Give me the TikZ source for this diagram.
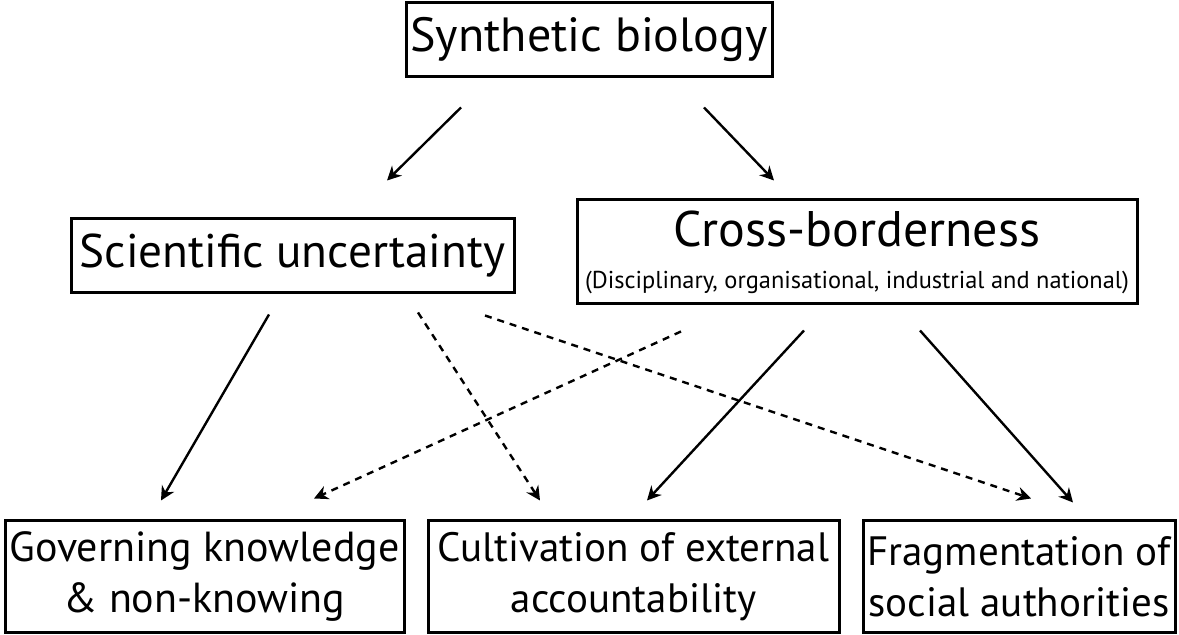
\documentclass[tikz,border=0pt]{standalone}
\usepackage{fontspec}
\setmainfont{PT Sans}
\usepackage{tikz}
\usetikzlibrary{arrows.meta, calc}

\tikzset{
  box/.style = {draw, line width=1.5pt, inner sep=0pt, align=center},
  arr/.style = {-{Stealth[length=7pt, width=7pt]}, line width=1.2pt},
  darr/.style = {arr, dash pattern=on 3.5pt off 3pt},
}

\begin{document}
\begin{tikzpicture}[x=0.5pt, y=-0.5pt]
  \useasboundingbox (0,0) rectangle (1179,635);

  \node (syn) [box, minimum width=183pt, minimum height=37pt,
               font=\fontsize{24}{29}\selectfont] at (589,40) {Synthetic biology};
  \node (sci) [box, minimum width=221.5pt, minimum height=37pt,
               font=\fontsize{23.6}{28}\selectfont] at (292.5,256) {Scientific uncertainty};
  \node (cross) [box, minimum width=280pt, minimum height=52pt,
                 font=\fontsize{25}{30}\selectfont] at (857,252)
    {Cross-borderness\\[-9pt]{\fontsize{12.2}{14}\selectfont (Disciplinary, organisational, industrial and national)}};

  \node (gov) [box, minimum width=199.5pt, minimum height=56pt,
               font=\fontsize{21}{25.5}\selectfont] at (204.5,577) {Governing knowledge\\\& non-knowing};
  \node (cult) [box, minimum width=205.5pt, minimum height=56pt,
                font=\fontsize{20.5}{25.5}\selectfont] at (633.5,577) {Cultivation of external\\accountability};
  \node (frag) [box, minimum width=156pt, minimum height=56pt,
                font=\fontsize{20.5}{25.5}\selectfont] at (1019,577) {Fragmentation of\\social authorities};

  % top level
  \draw [arr] ($(syn.south)+(-128,29)$) -- ($(sci.north)+(94.5,-37)$);
  \draw [arr] ($(syn.south)+(115,29)$) -- ($(cross.north)+(-83,-18)$);

  % from scientific uncertainty
  \draw [arr]  ($(sci.south)+(-23.5,20)$) -- ($(gov.north)+(-43.5,-19)$);
  \draw [darr] ($(sci.south)+(125.5,18)$) -- ($(cult.north)+(-93.5,-19)$);
  \draw [darr] ($(sci.south)+(192.5,21)$) -- ($(frag.north)+(12,-21)$);

  % from cross-borderness
  \draw [darr] ($(cross.south)+(-176,26)$) -- ($(gov.north)+(109.5,-21)$);
  \draw [arr]  ($(cross.south)+(-53,25)$) -- ($(cult.north)+(13.5,-19)$);
  \draw [arr]  ($(cross.south)+(63,25)$) -- ($(frag.north)+(54,-17)$);
\end{tikzpicture}
\end{document}
